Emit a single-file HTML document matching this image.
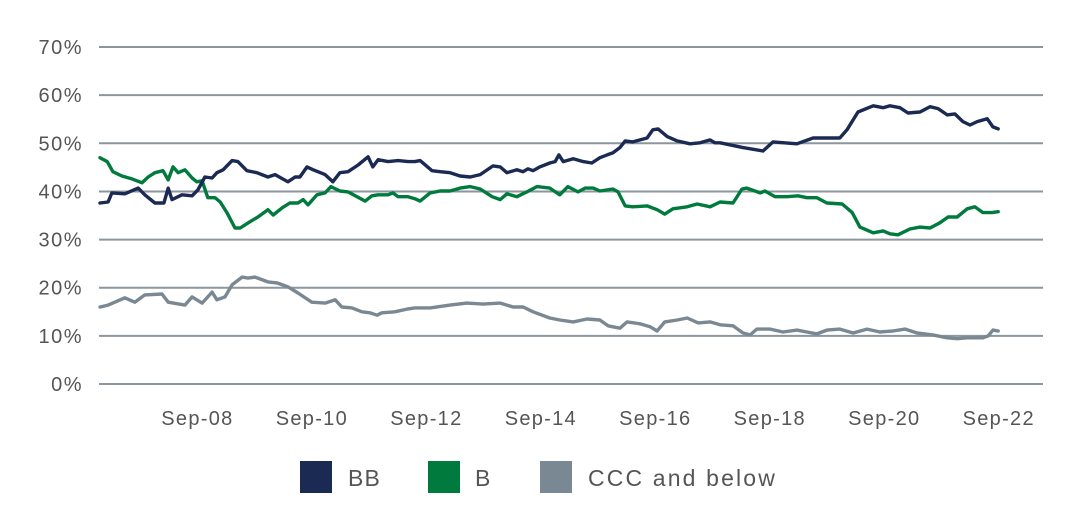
<!DOCTYPE html>
<html><head><meta charset="utf-8"><style>
html,body{margin:0;padding:0;background:#fff;}
svg{display:block;font-family:"Liberation Sans",sans-serif;}
</style></head><body>
<svg id="chart" width="1076" height="524">
<g id="grid"></g>
<g id="ylabels"></g>
<g id="xlabels"></g>
<g id="lines"></g>
<g font-size="23" fill="#555" letter-spacing="1.2">
<g><rect x="300" y="461" width="32" height="32" fill="#1b2a52"/><text x="348" y="486">BB</text></g>
<g><rect x="428" y="461" width="32" height="32" fill="#007a3d"/><text x="475" y="486">B</text></g>
<g><rect x="540" y="461" width="32" height="32" fill="#7a8893"/><text x="588" y="486" textLength="188" lengthAdjust="spacing">CCC and below</text></g>
</g>
</svg>
<script>
const yTicks=[0,10,20,30,40,50,60,70];
const xTickLabels=["Sep-08","Sep-10","Sep-12","Sep-14","Sep-16","Sep-18","Sep-20","Sep-22"];
const xTickMonths=[20,44,68,92,116,140,164,188];
const bbMonths=[0,1.7,2.5,5.2,8,9.4,11.5,13.4,14.3,15.1,17.2,19.3,20.5,22,23.5,24.5,25.8,27.7,28.9,30.8,32.9,35.2,36.7,39.4,40.9,41.9,43.4,44.7,47.2,48.8,50.3,52,54.1,56.2,57.2,58.3,60.4,62.5,64.6,66,67.1,69.6,71.3,73.4,75.5,77.6,79.7,82.4,83.9,85.3,87.4,88.7,89.7,90.8,92.2,94.3,95.4,96.2,97.1,99.2,101.3,103.1,104.8,106.3,107.5,109,110.1,111.7,114.7,115.9,117,118.9,121,123.7,125.8,127.9,128.9,130,134.8,139,141.1,146.1,149.5,155.1,156.6,158.9,162.1,164.2,165.6,167.7,169.4,171.9,174,175.7,177.6,179.2,180.9,182.4,183.9,186,187.2,188.3];
const bbValues=[37.6,37.8,39.7,39.5,40.7,39.3,37.6,37.6,40.7,38.3,39.3,39.1,40.3,43,42.8,43.9,44.5,46.4,46.2,44.3,43.9,43,43.5,42,43,43,45.1,44.5,43.5,42,43.9,44.1,45.5,47.2,45.1,46.6,46.2,46.4,46.2,46.2,46.4,44.3,44.1,43.9,43.2,43,43.5,45.3,45.1,43.9,44.5,44.1,44.7,44.3,45.1,45.9,46.2,47.6,46.2,46.8,46.2,45.9,47,47.6,48,49.1,50.5,50.3,51.1,52.8,53,51.4,50.5,49.9,50.1,50.7,50.1,50.1,49.1,48.4,50.3,49.9,51.1,51.1,52.8,56.5,57.8,57.4,57.8,57.4,56.3,56.5,57.6,57.2,55.9,56.1,54.5,53.8,54.5,55.1,53.4,53];
const bMonths=[0,1.5,2.7,4.6,6.7,8.8,10.1,11.5,13.2,14.3,15.3,16.4,17.8,19.3,20.3,21.4,22.6,24.1,25.2,26.6,28.3,29.4,31.4,33.1,35.2,36.3,38.2,39.8,41.5,42.6,43.6,45.5,47.2,48.4,50.3,52,53.5,55.6,57,58.3,60.4,61.4,62.5,64.6,66,67.1,69.2,71.3,73.4,75.5,77.6,79.7,82.2,83.9,85.3,87.4,89.5,91.6,94.3,96.4,98.1,100.2,101.7,103.4,104.8,107.5,108.6,110.1,111.7,114.7,116.8,118.4,120.1,123.1,125.2,127.9,130,132.7,134.6,135.6,138.4,139.4,141.5,144,146.3,148.2,150.3,152.4,155.6,157.7,159.3,162.1,164.2,165.6,167.3,169.8,171.9,174,176.1,177.8,179.7,181.8,183.4,185.1,187,188.3];
const bValues=[47,46.2,44.1,43.2,42.6,41.8,43,43.9,44.3,42.4,45.1,43.9,44.5,42.8,42,42.2,38.7,38.7,37.8,35.6,32.4,32.4,33.7,34.7,36.2,35.1,36.6,37.6,37.6,38.3,37.2,39.3,39.7,41,40.1,39.9,39.1,38,39.1,39.3,39.3,39.7,38.9,38.9,38.5,38,39.7,40.1,40.1,40.7,41,40.5,38.9,38.3,39.5,38.9,39.9,41,40.7,39.3,41,39.9,40.7,40.7,40.1,40.5,39.9,37,36.8,37,36.2,35.3,36.4,36.8,37.4,36.8,37.8,37.6,40.5,40.7,39.7,40.1,38.9,38.9,39.1,38.7,38.7,37.6,37.4,35.6,32.6,31.4,31.8,31.2,31,32.2,32.6,32.4,33.5,34.7,34.7,36.4,36.8,35.6,35.6,35.8];
const cccMonths=[0,1.7,3.1,5.2,7.3,9.4,13,14.3,17.8,19.3,21.4,23.5,24.5,26.2,27.7,29.8,31,32.5,35.2,37.1,39.4,41.5,44.4,47.2,49.3,50.7,52.8,54.9,56.6,58.1,59.1,61.8,64.6,66,69.2,73.4,76.9,80.3,83.9,86.6,88.7,90.8,94.3,96.4,99.2,102.1,104.8,106.5,109,110.5,113.2,115.3,116.8,118.4,121,123.1,125.4,127.9,130,132.7,134.8,136.3,137.7,140.5,143.2,146.1,148.2,150.3,152.4,155.1,157.9,160.8,163.5,166.2,168.8,171.3,174.6,177.6,179.7,181.8,185.1,186.2,187.2,188.3];
const cccValues=[16,16.4,17,17.9,17,18.5,18.7,17,16.4,18.1,16.8,19.1,17.5,18.1,20.6,22.2,22,22.2,21.2,21,20.2,18.9,17,16.8,17.5,16,15.8,15,14.8,14.3,14.8,15,15.6,15.8,15.8,16.4,16.8,16.6,16.8,16,16,15,13.7,13.3,12.9,13.5,13.3,12.1,11.6,12.9,12.5,11.9,11,12.9,13.3,13.7,12.7,12.9,12.3,12.1,10.6,10.2,11.4,11.4,10.8,11.2,10.8,10.4,11.2,11.4,10.6,11.4,10.8,11,11.4,10.6,10.2,9.6,9.4,9.6,9.6,10,11.2,11];
const NS='http://www.w3.org/2000/svg';
const xS=m=>100+m*4.77;
const yS=v=>384-v*4.814;
function mk(t,a,p){const e=document.createElementNS(NS,t);for(const k in a)e.setAttribute(k,a[k]);p.appendChild(e);return e;}
const grid=document.getElementById('grid'),yl=document.getElementById('ylabels'),xl=document.getElementById('xlabels'),lines=document.getElementById('lines');
yTicks.forEach(v=>{
 const l=mk('line',{x1:99,x2:1043,y1:yS(v),y2:yS(v),stroke:'#8c969e','stroke-width':2},grid);
 
 
 const t=mk('text',{x:83,y:yS(v)+7,'text-anchor':'end','font-size':20,'letter-spacing':1.5,fill:'#555'},yl);
 t.textContent=v+'%';
 
 
});
xTickLabels.forEach((s,i)=>{
 const t=mk('text',{x:xS(xTickMonths[i])+2,y:425,'text-anchor':'middle','font-size':20,'letter-spacing':1.3,fill:'#555'},xl);
 t.textContent=s;
 
 
});
function line(ms,vs,c,name){
 const d=ms.map((m,i)=>(i?'L':'M')+xS(m).toFixed(1)+','+yS(vs[i]).toFixed(1)).join('');
 const p=mk('path',{d:d,fill:'none',stroke:c,'stroke-width':3.4,'stroke-linejoin':'round','stroke-linecap':'round'},lines);
 
 
}
line(cccMonths,cccValues,'#7a8893','line-ccc');
line(bMonths,bValues,'#007a3d','line-b');
line(bbMonths,bbValues,'#1b2a52','line-bb');
</script>
</body></html>
